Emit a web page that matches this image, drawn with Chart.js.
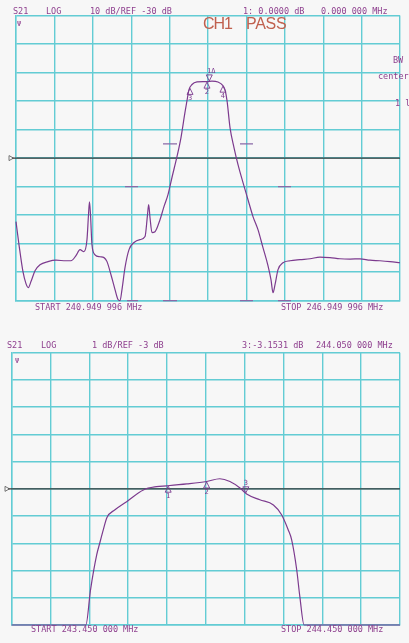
<!DOCTYPE html>
<html><head><meta charset="utf-8">
<script src="https://cdn.jsdelivr.net/npm/chart.js@4"></script>
<style>
html,body{margin:0;padding:0;}
body{background:#f7f7f7;width:409px;height:643px;overflow:hidden;position:relative;font-family:"DejaVu Sans Mono",monospace;}
.t{position:absolute;font-size:8.5px;color:#8e3f8e;white-space:nowrap;line-height:9px;}
.big{position:absolute;font-family:"Liberation Sans",Arial,sans-serif;font-size:16px;color:#c0604e;line-height:16px;white-space:nowrap;}
canvas{position:absolute;left:0;}
</style></head><body>
<canvas id="c1" width="409" height="315" style="top:0px"></canvas>
<canvas id="c2" width="409" height="313" style="top:330px"></canvas>

<div class="t" style="left:13px;top:7px">S21</div>
<div class="t" style="left:46px;top:7px">LOG</div>
<div class="t" style="left:90px;top:7px">10 dB/REF -30 dB</div>
<div class="t" style="left:243px;top:7px">1: 0.0000 dB</div>
<div class="t" style="left:321px;top:7px">0.000 000 MHz</div>
<div class="big" style="left:203px;top:16px;letter-spacing:-1px">CH1</div>
<div class="big" style="left:246px;top:16px;letter-spacing:-0.3px">PASS</div>
<div class="t" style="left:17px;top:20px;font-size:7px">Ψ</div>
<div class="t" style="left:393px;top:56px">BW</div>
<div class="t" style="left:378px;top:72px">center</div>
<div class="t" style="left:395px;top:99px">1 l</div>
<div class="t" style="left:35px;top:303px">START 240.949 996 MHz</div>
<div class="t" style="left:281px;top:303px">STOP 246.949 996 MHz</div>

<div class="t" style="left:7px;top:341px">S21</div>
<div class="t" style="left:41px;top:341px">LOG</div>
<div class="t" style="left:92px;top:341px">1 dB/REF -3 dB</div>
<div class="t" style="left:242px;top:341px">3:-3.1531 dB</div>
<div class="t" style="left:316px;top:341px">244.050 000 MHz</div>
<div class="t" style="left:15px;top:357px;font-size:7px">Ψ</div>
<div class="t" style="left:31px;top:625px">START 243.450 000 MHz</div>
<div class="t" style="left:281px;top:625px">STOP 244.450 000 MHz</div>

<script>
// ---- top plot: wide span ----
const topFreq = [240.950, 240.997, 241.059, 241.106, 241.142, 241.184, 241.247, 241.325, 241.450, 241.575,
  241.731, 241.809, 241.887, 241.950, 242.012, 242.059, 242.083, 242.098, 242.114, 242.137,
  242.184, 242.262, 242.325, 242.372, 242.434, 242.497, 242.544, 242.575, 242.606, 242.653,
  242.716, 242.794, 242.887, 242.966, 243.005, 243.023, 243.044, 243.075, 243.122, 243.200,
  243.262, 243.325, 243.387, 243.465, 243.528, 243.590, 243.622, 243.653, 243.700, 243.778,
  243.872, 243.934, 244.012, 244.106, 244.184, 244.215, 244.247, 244.294, 244.356, 244.419,
  244.497, 244.575, 244.653, 244.731, 244.809, 244.887, 244.934, 244.966, 244.997, 245.044,
  245.122, 245.231, 245.387, 245.544, 245.700, 245.856, 246.012, 246.169, 246.325, 246.481,
  246.637, 246.794, 246.950];
const topDb = [-52.3, -60.4, -69.8, -74.0, -75.4, -73.3, -69.5, -67.4, -66.3, -65.8,
  -66.0, -66.0, -64.2, -62.1, -62.8, -58.6, -49.8, -45.3, -49.8, -60.4,
  -63.9, -64.6, -64.9, -66.3, -70.9, -76.1, -79.6, -80.0, -76.1, -68.4,
  -62.1, -59.6, -58.6, -57.5, -49.8, -46.3, -50.9, -56.1, -55.8, -51.6,
  -47.0, -42.8, -36.8, -29.5, -22.8, -14.0, -9.8, -6.0, -4.2, -3.3,
  -3.2, -3.2, -3.0, -3.3, -4.6, -6.0, -9.8, -19.3, -26.3, -32.3,
  -38.6, -44.6, -50.5, -55.1, -61.4, -67.7, -72.6, -77.2, -74.4, -69.1,
  -66.7, -66.0, -65.6, -65.3, -64.7, -64.9, -65.3, -65.4, -65.3, -65.8,
  -66.0, -66.3, -66.7];
const limitStart = [243.247, 244.450, 242.653, 245.044, 242.684, 243.247, 244.450, 245.044];
const limitEnd   = [243.466, 244.653, 242.856, 245.247, 242.856, 243.466, 244.653, 245.247];
const limitDb    = [-25, -25, -40, -40, -80, -80, -80, -80];
const topMarkerFreq = [243.970, 243.934, 243.669, 244.184];
const topMarkerLabel = ['1Δ', '2', '3', '4'];
const topMarkerDir = ['down', 'up', 'up', 'up'];

// ---- bottom plot: narrow span ----
const botFreq = [243.450, 243.641, 243.653, 243.669, 243.677, 243.686, 243.695, 243.716, 243.746, 243.789,
  243.823, 243.849, 243.901, 243.952, 243.986, 244.012, 244.038, 244.055, 244.089, 244.124,
  244.145, 244.162, 244.171, 244.184, 244.192, 244.203, 244.450];
const botDb = [-8, -8, -6.71, -5.42, -4.98, -4.50, -4.06, -3.77, -3.47, -3.04,
  -2.92, -2.89, -2.82, -2.73, -2.63, -2.73, -2.97, -3.19, -3.40, -3.59,
  -3.95, -4.50, -4.87, -5.97, -6.95, -8, -8];
const botMarkerFreq = [243.853, 243.952, 244.053];
const botMarkerLabel = ['1', '2', '3'];
const botMarkerDir = ['up', 'up', 'down'];

const GRID = '#63ccd4';
const TRACE = '#7c3a8e';
const LIMIT = '#8a6aa8';

function gridTicks(min, step, n) {
  return axis => { const t = []; for (let i = 0; i <= n; i++) t.push({ value: min + i * step }); axis.ticks = t; };
}
function interp(xs, ys, f) {
  for (let i = 1; i < xs.length; i++) {
    if (f <= xs[i]) { const r = (f - xs[i-1]) / (xs[i] - xs[i-1]); return ys[i-1] + r * (ys[i] - ys[i-1]); }
  }
  return ys[ys.length - 1];
}
function overlay(refVal, triX, xs, ys, mf, ml, md) {
  return {
    id: 'overlay',
    beforeDatasetsDraw(chart) {
      const ctx = chart.ctx, a = chart.chartArea, y = chart.scales.y.getPixelForValue(refVal);
      ctx.save();
      ctx.strokeStyle = '#3a3a3a'; ctx.lineWidth = 1.2;
      ctx.beginPath(); ctx.moveTo(triX, y); ctx.lineTo(a.right, y); ctx.stroke();
      ctx.lineWidth = 0.8; ctx.strokeStyle = '#555';
      ctx.beginPath(); ctx.moveTo(triX - 3, y - 2.5); ctx.lineTo(triX + 1.5, y); ctx.lineTo(triX - 3, y + 2.5); ctx.closePath(); ctx.stroke();
      ctx.restore();
    },
    afterDatasetsDraw(chart) {
      const ctx = chart.ctx, sx = chart.scales.x, sy = chart.scales.y;
      ctx.save();
      ctx.strokeStyle = TRACE; ctx.fillStyle = TRACE; ctx.lineWidth = 0.9;
      ctx.font = '7px "DejaVu Sans Mono", monospace'; ctx.textAlign = 'center'; ctx.textBaseline = 'middle';
      for (let i = 0; i < mf.length; i++) {
        const px = sx.getPixelForValue(mf[i]), py = sy.getPixelForValue(interp(xs, ys, mf[i]));
        ctx.beginPath();
        if (md[i] === 'up') {
          ctx.moveTo(px, py + 0.5); ctx.lineTo(px - 3, py + 6.5); ctx.lineTo(px + 3, py + 6.5); ctx.closePath(); ctx.stroke();
          ctx.fillText(ml[i], px, py + 10.5);
        } else {
          ctx.moveTo(px, py - 0.5); ctx.lineTo(px - 3, py - 6.5); ctx.lineTo(px + 3, py - 6.5); ctx.closePath(); ctx.stroke();
          ctx.fillText(ml[i], px + (ml[i].length > 1 ? 2 : 0), py - 10.5);
        }
      }
      ctx.restore();
    }
  };
}
function scaleOpts(min, max, step) {
  return {
    type: 'linear', min: min, max: max,
    afterBuildTicks: gridTicks(min, step, 10),
    ticks: { display: false },
    grid: { color: GRID, lineWidth: 1.4, drawTicks: false },
    border: { display: true, color: GRID, width: 1.4 }
  };
}
function baseOptions(pad, xmin, xmax, xstep, ymin, ymax, ystep) {
  return {
    responsive: false, animation: false,
    layout: { padding: pad, autoPadding: false },
    plugins: { legend: { display: false }, tooltip: { enabled: false } },
    scales: { x: scaleOpts(xmin, xmax, xstep), y: scaleOpts(ymin, ymax, ystep) }
  };
}

// top chart
const limitData = [];
for (let i = 0; i < limitStart.length; i++) {
  limitData.push({ x: limitStart[i], y: limitDb[i] }, { x: limitEnd[i], y: limitDb[i] }, { x: limitEnd[i] + 0.001, y: null });
}
new Chart(document.getElementById('c1'), {
  type: 'line',
  data: { datasets: [
    { data: topFreq.map((f, i) => ({ x: f, y: topDb[i] })), borderColor: TRACE, borderWidth: 1.2, pointRadius: 0, cubicInterpolationMode: 'monotone', clip: 2 },
    { data: limitData, borderColor: LIMIT, borderWidth: 1.2, pointRadius: 0, spanGaps: false, clip: 2 }
  ] },
  options: baseOptions({ left: 16, top: 15.5, right: 9, bottom: 14.3 }, 240.949996, 246.949996, 0.6, -80, 20, 10),
  plugins: [overlay(-30, 12, topFreq, topDb, topMarkerFreq, topMarkerLabel, topMarkerDir)]
});

// bottom chart
new Chart(document.getElementById('c2'), {
  type: 'line',
  data: { datasets: [
    { data: botFreq.map((f, i) => ({ x: f, y: botDb[i] })), borderColor: TRACE, borderWidth: 1.2, pointRadius: 0, cubicInterpolationMode: 'monotone', clip: 2 }
  ] },
  options: baseOptions({ left: 11.7, top: 22.7, right: 9, bottom: 18 }, 243.45, 244.45, 0.1, -8, 2, 1),
  plugins: [overlay(-3, 8, botFreq, botDb, botMarkerFreq, botMarkerLabel, botMarkerDir)]
});
</script>
</body></html>
